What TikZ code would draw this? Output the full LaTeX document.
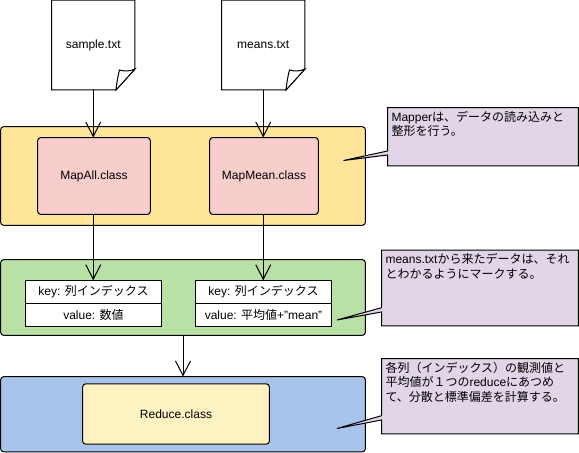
\documentclass[tikz,border=0pt]{standalone}
\usepackage{fontspec}
\setsansfont{Liberation Sans}
\newfontfamily\jpfont{Noto Sans CJK JP}
\newcommand{\jp}[1]{{\jpfont #1}}
\usetikzlibrary{arrows.meta, calc}
\definecolor{mYellow}{HTML}{FFE599}
\definecolor{mPink}{HTML}{F8CECC}
\definecolor{mGreen}{HTML}{B9E0A5}
\definecolor{mBlue}{HTML}{A9C4EB}
\definecolor{mCream}{HTML}{FFF3C4}
\definecolor{mPurple}{HTML}{E1D5E7}

\begin{document}
\begin{tikzpicture}[
  x=0.02cm, y=-0.02cm,
  line width=0.02cm,
  every node/.style={font=\sffamily\fontsize{6.83pt}{8.25pt}\selectfont, outer sep=0pt},
  band/.style={draw, rounded corners=0.07cm, minimum width=7.3cm},
  cls/.style={draw, rounded corners=0.07cm},
  doc/.style={minimum width=1.67cm, minimum height=1.8cm},
  kv/.style={draw, fill=white, minimum width=2.72cm, minimum height=0.46cm, inner sep=0pt},
  note/.style={minimum height=#1, inner sep=0pt},
  notetext/.style={anchor=north west, align=left, inner xsep=0.08cm, inner ysep=0.07cm},
  flow/.style={-{Straight Barb[length=0.29cm, width=0.3cm]}},
]
  % Background
  \path[use as bounding box, fill=white] (0,0) rectangle (579,453);

  % Bands
  \node[band, fill=mYellow, minimum height=1.98cm] (mapper) at (183,176) {};
  \node[band, fill=mGreen, minimum height=1.52cm] (shuffle) at (183,297.5) {};
  \node[band, fill=mBlue, minimum height=1.51cm] (reducer) at (183,414.25) {};

  % Input files
  \foreach \name/\x/\label in {sample/93.25/sample.txt, means/263.25/means.txt} {
    \node[doc] (\name) at (\x,45) {};
    \draw[fill=white] (\name.north west) -- (\name.north east)
      -- ($(\name.north east)+(0,69)$) -- ($(\name.south east)+(-19,0)$)
      -- (\name.south west) -- cycle;
    \draw[fill=white] ($(\name.south east)+(-19,0)$)
      .. controls ($(\name.south east)+(-18,-10)$) and ($(\name.south east)+(-16.5,-16)$) .. ($(\name.south east)+(-15.5,-20)$)
      .. controls ($(\name.south east)+(-12,-19)$) and ($(\name.south east)+(-6,-18)$) .. ($(\name.south east)+(0,-21)$)
      -- cycle;
    \node (\name text) at (\name) {\label};
  }

  % Classes
  \node[cls, fill=mPink, minimum width=2.26cm, minimum height=1.54cm] (mapall) at (94,176) {MapAll.class};
  \node[cls, fill=mPink, minimum width=2.18cm, minimum height=1.54cm] (mapmean) at (264,176) {MapMean.class};
  \node[cls, fill=mCream, minimum width=3.74cm, minimum height=1.21cm] (reduce) at (176,414) {Reduce.class};

  % Key and value tables
  \node[kv] (keya) at (93.5,291.75) {key: \jp{列インデックス}};
  \node[kv, anchor=north] (valuea) at (keya.south) {value: \jp{数値}};
  \node[kv] (keyb) at (263.5,291.75) {key: \jp{列インデックス}};
  \node[kv, anchor=north] (valueb) at (keyb.south) {value: \jp{平均値}+"mean"};

  % Connectors
  \draw[flow] (sample.south) -- (sample.south |- mapall.north);
  \draw[flow] (means.south) -- (means.south |- mapmean.north);
  \draw[flow] (mapall.south -| sample.south) -- (sample.south |- keya.north);
  \draw[flow] (mapmean.south -| means.south) -- (means.south |- keyb.north);
  \draw[flow] (shuffle.south) -- (reducer.north);

  % Notes
  \node[note=1.17cm, minimum width=3.82cm] (notemap) at (483,136.75) {};
  \coordinate (tipmap) at (343.5,160.5);
  \draw[fill=mPurple] (notemap.north west) -- (notemap.north east) -- (notemap.south east)
    -- (notemap.south west) -- (notemap.west |- 0,155) -- (tipmap) -- (notemap.west |- 0,151) -- cycle;
  \node[notetext] (textmap) at (notemap.north west) {Mapper\jp{は、データの読み込みと}\\\jp{整形を行う。}};

  \node[note=1.52cm, minimum width=3.94cm] (notemeans) at (480,288) {};
  \coordinate (tipmeans) at (337,320);
  \draw[fill=mPurple] (notemeans.north west) -- (notemeans.north east) -- (notemeans.south east)
    -- (notemeans.south west) -- (notemeans.west |- 0,312) -- (tipmeans) -- (notemeans.west |- 0,307.7) -- cycle;
  \node[notetext] (textmeans) at (notemeans.north west) {means.txt\jp{から来たデータは、それ}\\\jp{とわかるようにマークする。}};

  \node[note=1.51cm, minimum width=3.94cm] (notereduce) at (480,396.25) {};
  \coordinate (tipreduce) at (337,428.5);
  \draw[fill=mPurple] (notereduce.north west) -- (notereduce.north east) -- (notereduce.south east)
    -- (notereduce.south west) -- (notereduce.west |- 0,420) -- (tipreduce) -- (notereduce.west |- 0,415.7) -- cycle;
  \node[notetext] (textreduce) at (notereduce.north west) {\jp{各列（インデックス）の観測値と}\\\jp{平均値が１つの}reduce\jp{にあつめ}\\\jp{て、分散と標準偏差を計算する。}};
\end{tikzpicture}
\end{document}
